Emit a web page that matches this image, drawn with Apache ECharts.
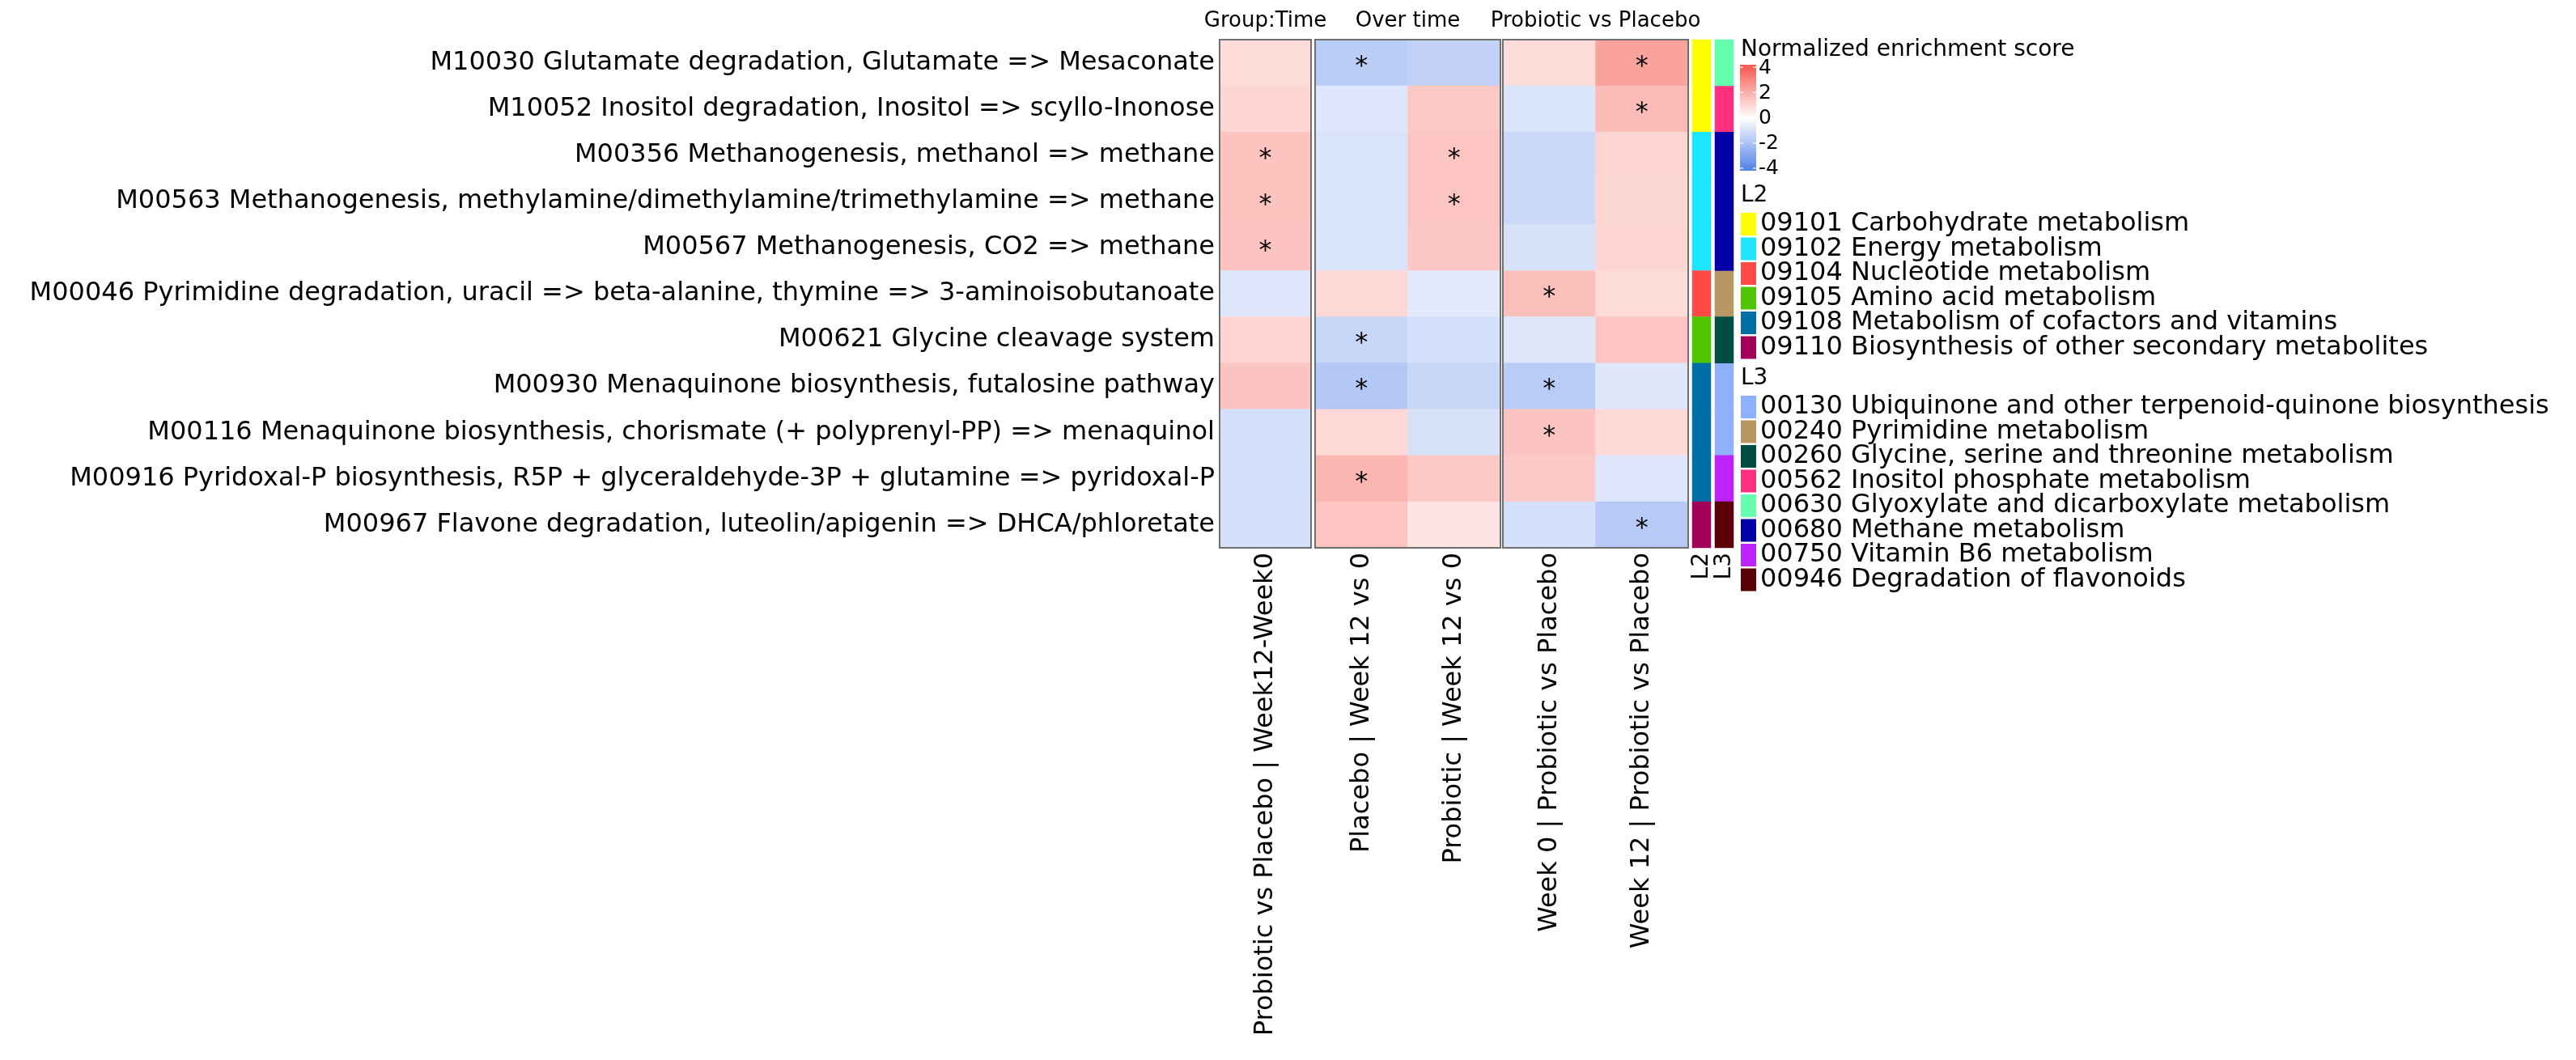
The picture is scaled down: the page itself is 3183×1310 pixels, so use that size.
<!DOCTYPE html>
<html><head><meta charset="utf-8">
<script src="https://cdn.jsdelivr.net/npm/echarts@6/dist/echarts.min.js"></script>
<style>html,body{margin:0;padding:0;background:#fff}#c{width:3183px;height:1310px}</style>
</head><body><div id="c"></div>
<script>
// ---------------- data ----------------
const rowLabels = [
  'M10030 Glutamate degradation, Glutamate => Mesaconate',
  'M10052 Inositol degradation, Inositol => scyllo-Inonose',
  'M00356 Methanogenesis, methanol => methane',
  'M00563 Methanogenesis, methylamine/dimethylamine/trimethylamine => methane',
  'M00567 Methanogenesis, CO2 => methane',
  'M00046 Pyrimidine degradation, uracil => beta-alanine, thymine => 3-aminoisobutanoate',
  'M00621 Glycine cleavage system',
  'M00930 Menaquinone biosynthesis, futalosine pathway',
  'M00116 Menaquinone biosynthesis, chorismate (+ polyprenyl-PP) => menaquinol',
  'M00916 Pyridoxal-P biosynthesis, R5P + glyceraldehyde-3P + glutamine => pyridoxal-P',
  'M00967 Flavone degradation, luteolin/apigenin => DHCA/phloretate'
];
const colLabels = [
  'Probiotic vs Placebo | Week12-Week0',
  'Placebo | Week 12 vs 0',
  'Probiotic | Week 12 vs 0',
  'Week 0 | Probiotic vs Placebo',
  'Week 12 | Probiotic vs Placebo'
];
const panelTitles = ['Group:Time', 'Over time', 'Probiotic vs Placebo'];

// normalized enrichment scores (one array per column)
const groupTime    = [0.87, 1.04, 1.49, 1.49, 1.48, -0.82, 1.07, 1.47, -1.04, -1.04, -1.04];
const placeboW12   = [-1.67, -0.82, -0.92, -0.92, -0.92, 0.97, -1.38, -1.82, 0.97, 1.81, 1.44];
const probioticW12 = [-1.50, 1.37, 1.44, 1.44, 1.42, -0.73, -1.04, -1.33, -0.97, 1.37, 0.70];
const week0PvP     = [0.87, -0.90, -1.28, -1.28, -0.97, 1.57, -0.78, -1.70, 1.47, 1.34, -1.04];
const week12PvP    = [2.29, 1.66, 1.02, 1.00, 1.04, 0.89, 1.44, -0.78, 0.94, -0.82, -1.77];

// significance flags (1 = '*')
const sigGroupTime    = [0,0,1,1,1,0,0,0,0,0,0];
const sigPlaceboW12   = [1,0,0,0,0,0,1,1,0,1,0];
const sigProbioticW12 = [0,0,1,1,0,0,0,0,0,0,0];
const sigWeek0PvP     = [0,0,0,0,0,1,0,1,1,0,0];
const sigWeek12PvP    = [1,1,0,0,0,0,0,0,0,0,1];

// annotations
const l2Cats = ['09101 Carbohydrate metabolism','09102 Energy metabolism','09104 Nucleotide metabolism',
  '09105 Amino acid metabolism','09108 Metabolism of cofactors and vitamins','09110 Biosynthesis of other secondary metabolites'];
const l2Colors = ['#FFFF00','#1CE6FF','#FF4A46','#4FC601','#006FA6','#A30059'];
const l2Rows = [0,0,1,1,1,2,3,4,4,4,5];

const l3Cats = ['00130 Ubiquinone and other terpenoid-quinone biosynthesis','00240 Pyrimidine metabolism',
  '00260 Glycine, serine and threonine metabolism','00562 Inositol phosphate metabolism',
  '00630 Glyoxylate and dicarboxylate metabolism','00680 Methane metabolism','00750 Vitamin B6 metabolism',
  '00946 Degradation of flavonoids'];
const l3Colors = ['#8FB0FF','#B79762','#004D43','#FF2F80','#63FFAC','#0000A6','#BC23FF','#5A0007'];
const l3Rows = [4,3,5,5,5,1,2,0,0,6,7];

const colorTicks = [4, 2, 0, -2, -4];
const BLUE = '#5A87E8', RED = '#F65E54';

// ---------------- layout ----------------
const FONT = 'DejaVu Sans';
const TOP = 49, H = 628;
const panels = [{left:1507,width:113},{left:1625,width:229},{left:1857,width:229}];
const annos = [{left:2091,width:23},{left:2119,width:23}];
const LEG_X = 2151;

const panelCols = [[groupTime],[placeboW12, probioticW12],[week0PvP, week12PvP]];
const panelSig = [[sigGroupTime],[sigPlaceboW12, sigProbioticW12],[sigWeek0PvP, sigWeek12PvP]];
const panelColLabels = [[colLabels[0]],[colLabels[1],colLabels[2]],[colLabels[3],colLabels[4]]];

const grid = [], xAxis = [], yAxis = [], series = [];
panels.forEach((p, gi) => {
  grid.push({left:p.left, top:TOP, width:p.width, height:H, show:true, z:10,
    borderColor:'#6f6f6f', borderWidth:2, backgroundColor:'transparent'});
  xAxis.push({type:'category', gridIndex:gi, data:panelColLabels[gi], position:'bottom',
    axisLine:{show:false}, axisTick:{show:false}, splitLine:{show:false},
    axisLabel:{rotate:90, fontSize:32, fontFamily:FONT, color:'#000', margin:6, interval:0}});
  yAxis.push({type:'category', gridIndex:gi, data:rowLabels, inverse:true,
    axisLine:{show:false}, axisTick:{show:false}, splitLine:{show:false},
    axisLabel:{show:gi===0, fontSize:32, fontFamily:FONT, color:'#000', margin:6, interval:0}});
  const data = [];
  panelCols[gi].forEach((arr, ci) => arr.forEach((v, ri) => data.push([ci, ri, v, panelSig[gi][ci][ri]])));
  series.push({type:'heatmap', xAxisIndex:gi, yAxisIndex:gi, data,
    itemStyle:{borderWidth:0},
    emphasis:{disabled:true},
    label:{show:true, formatter:p => p.data[3] ? '*' : '', fontSize:32, fontFamily:FONT, color:'#000', offset:[0,5]}});
});
[['L2', l2Cats, l2Colors, l2Rows], ['L3', l3Cats, l3Colors, l3Rows]].forEach((a, k) => {
  const gi = 3 + k;
  grid.push({left:annos[k].left, top:TOP, width:annos[k].width, height:H, show:false});
  xAxis.push({type:'category', gridIndex:gi, data:[a[0]], axisLine:{show:false}, axisTick:{show:false},
    axisLabel:{rotate:90, fontSize:28, fontFamily:FONT, color:'#000', margin:6}});
  yAxis.push({type:'category', gridIndex:gi, data:rowLabels, inverse:true, show:false});
  a[1].forEach((cat, ci) => {
    const data = [];
    a[3].forEach((c, ri) => { if (c === ci) data.push([0, ri, 1]); });
    series.push({type:'heatmap', name:cat, xAxisIndex:gi, yAxisIndex:gi, data,
      itemStyle:{color:a[2][ci], borderWidth:0}, emphasis:{disabled:true}});
  });
});

// ---------------- legend graphics ----------------
const graphic = [];
panels.forEach((p, i) => graphic.push({type:'text', x:p.left + p.width/2, y:26,
  style:{text:panelTitles[i], font:'26px "DejaVu Sans"', fill:'#000', textAlign:'center', textVerticalAlign:'middle'}}));
graphic.push({type:'text', x:LEG_X, y:62, style:{text:'Normalized enrichment score', font:'28px "DejaVu Sans"', fill:'#000', textVerticalAlign:'middle'}});
const CB_TOP = 80, CB_H = 131, CB_W = 20, CB_MAX = 4.2;
const vy = v => CB_TOP + CB_H * (CB_MAX - v) / (2*CB_MAX);
graphic.push({type:'rect', shape:{x:LEG_X-1, y:CB_TOP, width:CB_W, height:CB_H},
  style:{fill:new echarts.graphic.LinearGradient(0,0,0,1,[
    {offset:0, color:RED},{offset:(CB_MAX-4)/(2*CB_MAX), color:RED},{offset:0.5, color:'#ffffff'},
    {offset:(CB_MAX+4)/(2*CB_MAX), color:BLUE},{offset:1, color:BLUE}])}});
colorTicks.forEach(t => {
  const y = vy(t);
  graphic.push({type:'line', shape:{x1:LEG_X-1, y1:y, x2:LEG_X+3, y2:y}, style:{stroke:'#ffffff', lineWidth:1.5, opacity:0.8}});
  graphic.push({type:'line', shape:{x1:LEG_X+CB_W-5, y1:y, x2:LEG_X+CB_W-1, y2:y}, style:{stroke:'#ffffff', lineWidth:1.5, opacity:0.8}});
  graphic.push({type:'text', x:LEG_X+CB_W+2, y:y+1, style:{text:String(t), font:'25px "DejaVu Sans"', fill:'#000', textVerticalAlign:'middle'}});
});
graphic.push({type:'text', x:LEG_X, y:242, style:{text:'L2', font:'28px "DejaVu Sans"', fill:'#000', textVerticalAlign:'middle'}});
graphic.push({type:'text', x:LEG_X, y:468, style:{text:'L3', font:'28px "DejaVu Sans"', fill:'#000', textVerticalAlign:'middle'}});

const legendBase = {orient:'vertical', left:LEG_X, padding:0, itemGap:-1.5, itemWidth:19, itemHeight:28,
  icon:'rect', selectedMode:false, textStyle:{fontSize:32, fontFamily:FONT, color:'#000'}};

const chart = echarts.init(document.getElementById('c'), null, {renderer:'canvas'});
chart.setOption({
  animation:false,
  backgroundColor:'#ffffff',
  textStyle:{fontFamily:FONT},
  grid, xAxis, yAxis, series, graphic,
  visualMap:{show:false, type:'continuous', min:-4, max:4, dimension:2, seriesIndex:[0,1,2],
    inRange:{color:[BLUE, '#ffffff', RED]}},
  legend:[
    Object.assign({}, legendBase, {top:261, data:l2Cats}),
    Object.assign({}, legendBase, {top:487, data:l3Cats})
  ]
});
</script></body></html>
